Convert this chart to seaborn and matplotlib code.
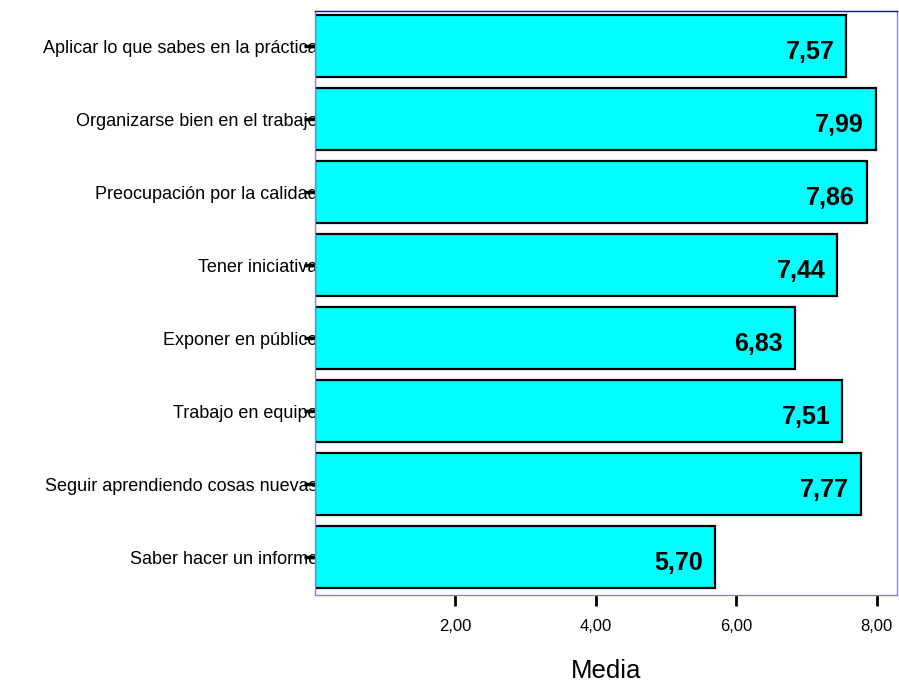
import matplotlib
matplotlib.use('Agg')
import matplotlib.pyplot as plt
import seaborn as sns
import pandas as pd

# datos
categorias = [
    'Aplicar lo que sabes en la práctica',
    'Organizarse bien en el trabajo',
    'Preocupación por la calidad',
    'Tener iniciativa',
    'Exponer en público',
    'Trabajo en equipo',
    'Seguir aprendiendo cosas nuevas',
    'Saber hacer un informe',
]
medias = [7.57, 7.99, 7.86, 7.44, 6.83, 7.51, 7.77, 5.70]
ticks_x = [2, 4, 6, 8]

sns.set_style('white')
plt.rcParams['font.family'] = ['Liberation Sans', 'DejaVu Sans']
plt.rcParams['text.color'] = 'black'
plt.rcParams['axes.labelcolor'] = 'black'
plt.rcParams['xtick.color'] = 'black'
plt.rcParams['ytick.color'] = 'black'

df = pd.DataFrame({'categoria': categorias, 'media': medias})

fig = plt.figure(figsize=(8.99, 6.84), dpi=100)
ax = fig.add_axes([0.3504, 0.1301, 0.6474, 0.8538])

sns.barplot(data=df, x='media', y='categoria', orient='h', color='#00ffff',
            saturation=1, width=0.86, edgecolor='black', linewidth=1.6, ax=ax)

for i, v in enumerate(medias):
    ax.text(v - 0.17, i + 0.08, f'{v:.2f}'.replace('.', ','), ha='right',
            va='center', fontsize=18, fontweight='bold', color='black')

ax.set_xlim(0, 8.29)
ax.set_ylim(7.52, -0.48)
ax.set_xticks(ticks_x)
ax.set_xticklabels([f'{t:.2f}'.replace('.', ',') for t in ticks_x], fontsize=12)
ax.set_ylabel('')
ax.set_xlabel('Media', fontsize=18.5, labelpad=18)
ax.tick_params(axis='x', direction='out', length=8, width=2, color='black', pad=9,
               bottom=True)
ax.tick_params(axis='y', direction='out', length=8, width=2.5, color='black', pad=-10,
               left=True, labelsize=13)
ax.set_axisbelow(True)

for side in ['left', 'right', 'bottom']:
    ax.spines[side].set_color('#8080ff')
    ax.spines[side].set_linewidth(1)
ax.spines['top'].set_color('#0000ff')
ax.spines['top'].set_linewidth(1)

fig.savefig('out.png', dpi=100)
